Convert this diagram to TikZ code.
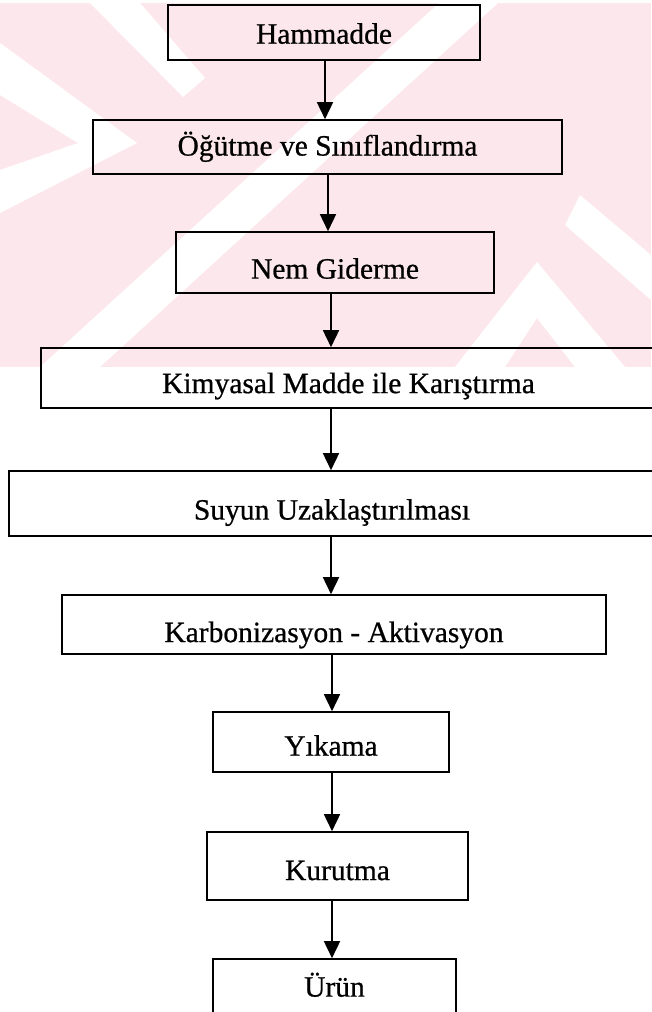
\documentclass[tikz,border=0pt]{standalone}
\usepackage{fontspec}
\setmainfont{Liberation Serif}
\newfontfamily\scanfont[FakeBold=0.7]{Liberation Serif}
\usetikzlibrary{arrows.meta}
\definecolor{wm}{RGB}{252,232,236}
\begin{document}
\begin{tikzpicture}[x=1pt,y=-1pt,
  box/.style={draw, line width=1.6pt, inner sep=0pt, text depth=0pt,
    font=\scanfont\fontsize{29.5}{34}\selectfont},
  flow/.style={line width=1.6pt, -{Triangle[length=17pt,width=16pt]}}]
\useasboundingbox (0,0) rectangle (651,1012);
\fill[white] (0,0) rectangle (651,1012);
% faint watermark
\fill[wm] (0,3) rectangle (651,367);
\fill[white] (90,3) -- (140,3) -- (205,78) -- (183,97) -- cycle;
\fill[white] (0,43) -- (137,143) -- (0,213) -- (0,170) -- (78,143) -- (0,95) -- cycle;
\fill[white] (40,367) -- (100,367) -- (498,3) -- (439,3) -- cycle;
\fill[white] (537,262) -- (625,367) -- (575,367) -- (537,318) -- (505,367) -- (455,367) -- cycle;
\fill[white] (580,195) -- (651,255) -- (651,300) -- (565,225) -- cycle;
% boxes
\node[box, minimum width=312pt, minimum height=55pt, text height=22.3pt] (b1) at (324,32.5) {Hammadde};
\node[box, minimum width=469pt, minimum height=54pt, text height=17.1pt] (b2) at (327.5,147) {Öğütme ve Sınıflandırma};
\node[box, minimum width=318pt, minimum height=61pt, text height=32.2pt] (b3) at (335,262.5) {Nem Giderme};
\node[box, minimum width=615pt, minimum height=60pt, text height=30.2pt] (b4) at (348.5,378) {Kimyasal Madde ile Karıştırma};
\node[box, minimum width=646pt, minimum height=65pt, text height=32.2pt] (b5) at (332,503.5) {Suyun Uzaklaştırılması};
\node[box, minimum width=544pt, minimum height=59pt, text height=35.1pt] (b6) at (334,624.5) {Karbonizasyon - Aktivasyon};
\node[box, minimum width=236pt, minimum height=60pt, text height=27.3pt] (b7) at (331,742) {Yıkama};
\node[box, minimum width=261pt, minimum height=68pt, text height=28.1pt] (b8) at (337.5,866) {Kurutma};
\node[box, minimum width=243pt, minimum height=61pt, text height=14.2pt] (b9) at (334.5,989.5) {Ürün};
% connectors
\draw[flow] (b1.south -| 325,0) -- (b2.north -| 325,0);
\draw[flow] (b2.south -| 328,0) -- (b3.north -| 328,0);
\draw[flow] (b3.south -| 331,0) -- (b4.north -| 331,0);
\draw[flow] (b4.south -| 331,0) -- (b5.north -| 331,0);
\draw[flow] (b5.south -| 331,0) -- (b6.north -| 331,0);
\draw[flow] (b6.south -| 332,0) -- (b7.north -| 332,0);
\draw[flow] (b7.south -| 332,0) -- (b8.north -| 332,0);
\draw[flow] (b8.south -| 332,0) -- (b9.north -| 332,0);
\end{tikzpicture}
\end{document}
